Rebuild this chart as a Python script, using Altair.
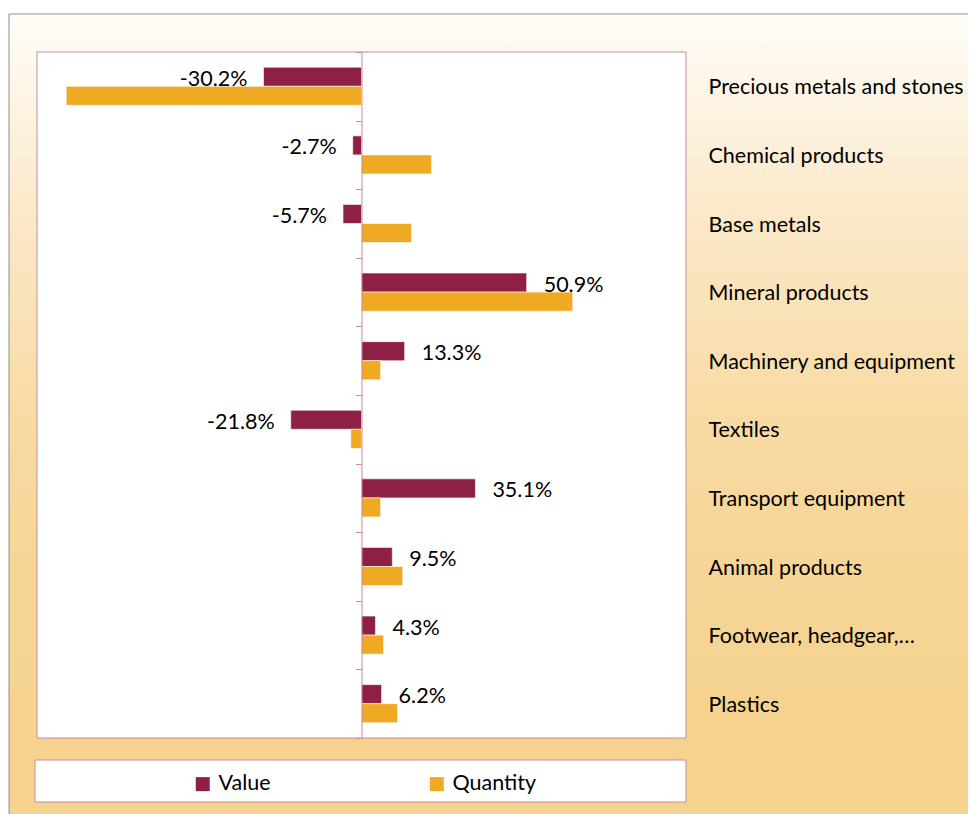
import altair as alt
import pandas as pd

categories = ["Precious metals and stones", "Chemical products", "Base metals",
              "Mineral products", "Machinery and equipment", "Textiles",
              "Transport equipment", "Animal products", "Footwear, headgear,…", "Plastics"]
value_pct = [-30.2, -2.7, -5.7, 50.9, 13.3, -21.8, 35.1, 9.5, 4.3, 6.2]
quantity_pct = [-91.0, 21.6, 15.4, 65.1, 5.9, -3.3, 5.9, 12.7, 6.8, 11.1]
series_names = ["Value", "Quantity"]
series_colors = ["#8E2045", "#EFA922"]

rows = []
for c, v, q in zip(categories, value_pct, quantity_pct):
    rows.append({"category": c, "series": "Value", "pct": v, "label": f"{v:.1f}%"})
    rows.append({"category": c, "series": "Quantity", "pct": q, "label": ""})
df = pd.DataFrame(rows)

W, H = 649, 686
FONT = "Lato"
FS = 21.5
PINK = "#c98a9e"

yscale = alt.Scale(domain=categories, paddingInner=0, paddingOuter=0)
yoff = alt.Scale(domain=series_names, paddingInner=0, paddingOuter=0.8)
xscale = alt.Scale(domain=[-100, 100], nice=False, zero=False)

one = pd.DataFrame({"k": [0]})
grad = {"gradient": "linear", "x1": 0, "y1": 0, "x2": 0, "y2": 1,
        "stops": [{"offset": 0, "color": "#fffdf8"},
                  {"offset": 0.24, "color": "#fbe8c8"},
                  {"offset": 0.47, "color": "#f8dba4"},
                  {"offset": 0.59, "color": "#f7d69a"},
                  {"offset": 0.80, "color": "#f5d38f"},
                  {"offset": 1, "color": "#f5d38f"}]}

bg = alt.Chart(one).mark_rect(fill=grad, stroke="#8f8f8f", strokeWidth=1).encode(
    x=alt.value(-28), x2=alt.value(1000), y=alt.value(-38), y2=alt.value(820))
plot_box = alt.Chart(one).mark_rect(fill="white", stroke=PINK, strokeWidth=1).encode(
    x=alt.value(0), x2=alt.value(W), y=alt.value(0), y2=alt.value(H))
legend_box = alt.Chart(one).mark_rect(fill="white", stroke=PINK, strokeWidth=1).encode(
    x=alt.value(-2), x2=alt.value(W), y=alt.value(708), y2=alt.value(750))

bars = alt.Chart(df).mark_bar(stroke="white", strokeWidth=0.6).encode(
    y=alt.Y("category:N", scale=yscale, sort=categories,
            axis=alt.Axis(orient="left", offset=-W / 2, labels=False, title=None,
                          ticks=True, tickSize=6, tickColor=PINK, domainColor=PINK,
                          tickBand="extent", zindex=1, grid=False)),
    yOffset=alt.YOffset("series:N", scale=yoff, sort=series_names),
    x=alt.X("pct:Q", scale=xscale, axis=None),
    color=alt.Color("series:N", scale=alt.Scale(domain=series_names, range=series_colors),
                    sort=series_names,
                    legend=alt.Legend(orient="none", legendX=155, legendY=721,
                                      direction="horizontal", title=None,
                                      symbolType="square", symbolSize=196,
                                      symbolStrokeWidth=0, labelFontSize=FS,
                                      labelFont=FONT, labelColor="black",
                                      columnPadding=155, padding=0, labelOffset=5)),
)

txt_pos = alt.Chart(df).transform_filter(
    "datum.series == 'Value' && datum.pct >= 0"
).mark_text(align="left", baseline="middle", dx=17, dy=3, fontSize=FS, font=FONT,
            color="black").encode(
    y=alt.Y("category:N", scale=yscale, sort=categories,
            axis=alt.Axis(orient="right", title=None, ticks=False, domain=False,
                          labelFontSize=21.5, labelFont=FONT, labelColor="black",
                          labelPadding=22, labelAlign="left", labelLimit=300,
                          labelOffset=2, grid=False, zindex=1)),
    yOffset=alt.YOffset("series:N", scale=yoff, sort=series_names),
    x=alt.X("pct:Q", scale=xscale, axis=None),
    text="label:N",
)

txt_neg = alt.Chart(df).transform_filter(
    "datum.series == 'Value' && datum.pct < 0"
).mark_text(align="right", baseline="middle", dx=-16, dy=3, fontSize=FS, font=FONT,
            color="black").encode(
    y=alt.Y("category:N", scale=yscale, sort=categories, axis=None),
    yOffset=alt.YOffset("series:N", scale=yoff, sort=series_names),
    x=alt.X("pct:Q", scale=xscale, axis=None),
    text="label:N",
)

chart = alt.layer(bg, plot_box, legend_box, bars, txt_pos, txt_neg).resolve_scale(
    y="independent"
).properties(
    width=W, height=H,
    autosize=alt.AutoSizeParams(type="none"),
    padding={"left": 29, "top": 44, "right": 282, "bottom": 76},
).configure_view(stroke=None)

chart.save("out.html", embed_options={"renderer": "svg", "actions": False})
